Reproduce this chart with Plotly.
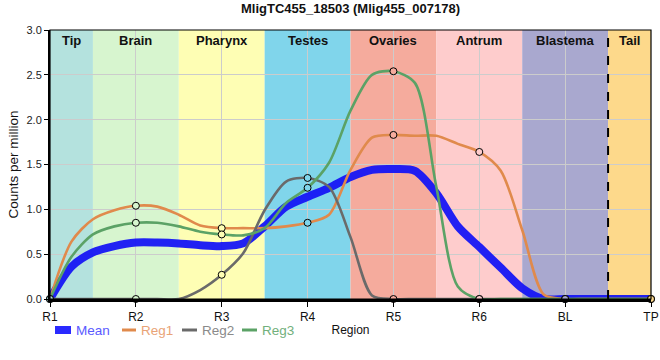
import plotly.graph_objects as go

# ---------------- data ----------------
regions = ["R1", "R2", "R3", "R4", "R5", "R6", "BL", "TP"]
bands = ["Tip", "Brain", "Pharynx", "Testes", "Ovaries", "Antrum", "Blastema", "Tail"]
band_edges = [0, 0.5, 1.5, 2.5, 3.5, 4.5, 5.5, 6.5, 7]
band_colors = ["#b4e2de", "#d7f5cf", "#fefeb4", "#80d5eb", "#f5ab9d",
               "#fecccc", "#a9a8cf", "#fdd98b"]

# values at the sampled regions (marked points)
mean = [0, 0.63, 0.59, 1.14, 1.45, 0.58, 0, 0]
reg1 = [0, 1.04, 0.79, 0.85, 1.83, 1.64, 0, 0]
reg2 = [0, 0, 0.27, 1.35, 0, 0, 0, 0]
reg3 = [0, 0.85, 0.72, 1.24, 2.54, 0, 0, 0]

# smoothed curve values read between consecutive regions (at 1/4, 1/2, 3/4 of each gap)
mean_between = [[0.36, 0.52, 0.59], [0.63, 0.62, 0.60], [0.62, 0.81, 1.03],
                [1.24, 1.36, 1.44], [1.43, 1.18, 0.81], [0.35, 0.12, 0.0], [0, 0, 0]]
reg1_between = [[0.64, 0.89, 0.99], [1.03, 0.94, 0.82], [0.79, 0.79, 0.81],
                [0.94, 1.44, 1.80], [1.82, 1.82, 1.73], [1.43, 0.77, 0.05], [0, 0, 0]]
reg2_between = [[0, 0, 0], [0, 0, 0.10], [0.51, 0.99, 1.31],
                [1.25, 0.69, 0.04], [0, 0, 0], [0, 0, 0], [0, 0, 0]]
reg3_between = [[0.47, 0.72, 0.81], [0.85, 0.81, 0.75], [0.71, 0.79, 1.07],
                [1.52, 2.10, 2.50], [2.41, 1.25, 0.14], [0, 0, 0], [0, 0, 0]]

series = [
    ("Mean", mean, mean_between, "rgba(20,20,245,0.94)", 8, "#5a5aff"),
    ("Reg1", reg1, reg1_between, "#e08a4c", 2.6, "#e9a377"),
    ("Reg2", reg2, reg2_between, "#6a6a6a", 2.6, "#8a8a8a"),
    ("Reg3", reg3, reg3_between, "#5ba266", 2.6, "#72b07c"),
]


def combine(vals, between):
    xs, ys = [], []
    for i, v in enumerate(vals):
        xs.append(i)
        ys.append(v)
        if i < len(between):
            for k, b in enumerate(between[i]):
                xs.append(i + (k + 1) / 4)
                ys.append(b)
    return xs, ys


fig = go.Figure()
idx = list(range(len(regions)))

for name, vals, between, color, width, _ in series:
    xs, ys = combine(vals, between)
    fig.add_trace(go.Scatter(x=xs, y=ys, mode="lines", name=name,
                             line=dict(color=color, width=width, shape="spline", smoothing=0.8),
                             hoverinfo="skip", showlegend=False))

# markers at sampled regions (not for the mean)
for name, vals, between, color, width, _ in series[1:]:
    fig.add_trace(go.Scatter(x=idx, y=vals, mode="markers", name=name,
                             marker=dict(symbol="circle", size=7, color=band_colors,
                                         line=dict(color="black", width=1)),
                             cliponaxis=False, showlegend=False,
                             text=regions, hovertemplate="%{text}: %{y}<extra>" + name + "</extra>"))

shapes = []
for i, b in enumerate(bands):
    shapes.append(dict(type="rect", xref="x", yref="paper", x0=band_edges[i], x1=band_edges[i + 1],
                       y0=0, y1=1, fillcolor=band_colors[i], line=dict(width=0), layer="below"))
# dashed separator before tail
shapes.append(dict(type="line", xref="x", yref="paper", x0=6.5, x1=6.5, y0=0, y1=1,
                   line=dict(color="black", width=2, dash="dash"), layer="above"))
# plot border
shapes.append(dict(type="rect", xref="paper", yref="paper", x0=0, x1=1, y0=0, y1=1,
                   line=dict(color="black", width=1.2), layer="above"))

FONT = "Liberation Sans, Arial, sans-serif"
annotations = []
for i, b in enumerate(bands):
    annotations.append(dict(x=(band_edges[i] + band_edges[i + 1]) / 2, y=2.885, xref="x", yref="y",
                            text="<b>" + b + "</b>", showarrow=False,
                            font=dict(size=13, color="#111111", family=FONT),
                            xanchor="center", yanchor="middle"))

# compact legend below the axis
L, R, T, B = 50, 9, 30, 61
W, H = 660 - L - R, 360 - T - B
px = lambda p: (p - L) / W
py = lambda p: (360 - B - p) / H
leg_y = 330
legend_items = [(55, 71, 74), (122, 136, 139), (182, 197, 200), (242, 257, 260)]
for (name, vals, between, color, width, tcolor), (a, b, t) in zip(series, legend_items):
    if name == "Mean":
        shapes.append(dict(type="rect", xref="paper", yref="paper", x0=px(a), x1=px(b),
                           y0=py(leg_y + 4), y1=py(leg_y - 4), fillcolor="#2a2aff",
                           line=dict(width=0)))
    else:
        shapes.append(dict(type="line", xref="paper", yref="paper", x0=px(a), x1=px(b),
                           y0=py(leg_y), y1=py(leg_y), line=dict(color=color, width=3)))
    annotations.append(dict(x=px(t), y=py(leg_y), xref="paper", yref="paper", text=name,
                            showarrow=False, xanchor="left", yanchor="middle",
                            font=dict(size=13.5, color=tcolor, family=FONT)))

fig.update_layout(
    width=660, height=360,
    margin=dict(l=L, r=R, t=T, b=B, pad=0, autoexpand=False),
    paper_bgcolor="white", plot_bgcolor="white",
    font=dict(family=FONT, color="#111111"),
    title=dict(text="<b>MligTC455_18503 (Mlig455_007178)</b>", x=0.5, xanchor="center",
               xref="paper", yref="container", y=1 - 4 / 360, yanchor="top",
               font=dict(size=13, color="#111111")),
    shapes=shapes, annotations=annotations, showlegend=False,
    xaxis=dict(range=[0, 7], tickvals=idx, ticktext=regions, showgrid=True, gridcolor="#cccccc",
               gridwidth=1, zeroline=False, showline=True, linecolor="black", linewidth=3,
               ticks="outside", ticklen=5, tickcolor="black", tickwidth=1, automargin=False,
               tickfont=dict(size=12, color="#111111"),
               title=dict(text="Region", standoff=3, font=dict(size=12, color="#111111"))),
    yaxis=dict(range=[0, 3], dtick=0.5, tickformat=".1f", showgrid=True, gridcolor="#cccccc",
               gridwidth=1, zeroline=False, showline=True, linecolor="black", linewidth=2,
               ticks="outside", ticklen=4, tickcolor="black", tickwidth=1, automargin=False,
               tickfont=dict(size=11, color="#222222"),
               title=dict(text="Counts per million", standoff=5, font=dict(size=13.5, color="#111111"))),
)

fig.write_html("out.html", config={"displayModeBar": False},
               post_script="document.body.style.margin='0';")
